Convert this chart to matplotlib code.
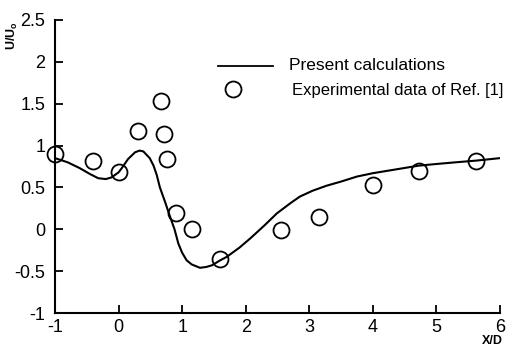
import matplotlib
matplotlib.use("Agg")
import matplotlib.pyplot as plt

# Calculated curve (traced)
calc_x = [-1.00, -0.80, -0.61, -0.45, -0.32, -0.20, -0.11, 0.00, 0.05, 0.15,
          0.26, 0.33, 0.39, 0.49, 0.55, 0.60, 0.65, 0.73, 0.81, 0.88,
          0.94, 1.00, 1.07, 1.15, 1.28, 1.38, 1.47, 1.60, 1.70, 1.90,
          2.07, 2.30, 2.49, 2.70, 2.85, 3.05, 3.27, 3.50, 3.75, 4.00,
          4.40, 4.72, 5.00, 5.30, 5.62, 6.00]
calc_y = [0.85, 0.80, 0.73, 0.66, 0.61, 0.60, 0.62, 0.68, 0.73, 0.84,
          0.92, 0.94, 0.93, 0.85, 0.76, 0.65, 0.50, 0.33, 0.15, 0.00,
          -0.17, -0.28, -0.37, -0.42, -0.46, -0.45, -0.43, -0.37, -0.33, -0.22,
          -0.11, 0.05, 0.19, 0.31, 0.39, 0.46, 0.52, 0.57, 0.63, 0.67,
          0.72, 0.76, 0.78, 0.80, 0.82, 0.85]

# Experimental data
exp_x = [-1.00, -0.40, 0.01, 0.30, 0.67, 0.72, 0.76, 0.90, 1.16, 1.60,
         1.80, 2.55, 3.16, 4.01, 4.72, 5.62]
exp_y = [0.90, 0.81, 0.68, 1.18, 1.53, 1.14, 0.84, 0.19, 0.00, -0.36,
         1.67, -0.01, 0.15, 0.53, 0.70, 0.82]

xticks = [-1, 0, 1, 2, 3, 4, 5, 6]
yticks = [-1, -0.5, 0, 0.5, 1, 1.5, 2, 2.5]
ytick_labels = ["-1", "-0.5", "0", "0.5", "1", "1.5", "2", "2.5"]

plt.rcParams['font.family'] = ['Liberation Sans', 'DejaVu Sans']
plt.rcParams['axes.unicode_minus'] = False

fig = plt.figure(figsize=(5.26, 3.48), dpi=100)
ax = fig.add_axes([55/526, 1 - 313/348, 445/526, 293/348])

ax.plot(calc_x, calc_y, color='black', lw=1.5, zorder=2)
ax.plot(exp_x, exp_y, linestyle='none', marker='o', markersize=11.5,
        markerfacecolor='none', markeredgecolor='black', markeredgewidth=1.3,
        zorder=3, clip_on=False)

ax.set_xlim(-1, 6)
ax.set_ylim(-1, 2.5)
ax.set_xticks(xticks)
ax.set_xticklabels([str(t) for t in xticks])
ax.set_yticks(yticks)
ax.set_yticklabels(ytick_labels)

for s in ['top', 'right']:
    ax.spines[s].set_visible(False)
for s in ['left', 'bottom']:
    ax.spines[s].set_linewidth(1.5)

ax.tick_params(direction='in', length=6, width=1.3, labelsize=13)
ax.tick_params(axis='y', pad=7)
ax.tick_params(axis='x', pad=4)

# Legend (manual)
ax.plot([(218-55)/445, (273-55)/445], [1 - (66-20)/293]*2, transform=ax.transAxes,
        color='black', lw=1.3, clip_on=False)
fig.text(289/526, 1 - 65/348, "Present calculations", fontsize=12.5, va='center', ha='left')
fig.text(292/526, 1 - 91/348, "Experimental data of Ref. [1]", fontsize=12, va='center', ha='left')

# Axis labels
fig.text(12/526, 1 - 36/348, "U/U$_\\mathregular{o}$", rotation=90, fontsize=9,
         fontweight='bold', ha='center', va='center')
fig.text(492/526, 1 - 341/348, "X/D", fontsize=9, fontweight='bold', ha='center', va='center')

fig.savefig("out.png", dpi=100)
